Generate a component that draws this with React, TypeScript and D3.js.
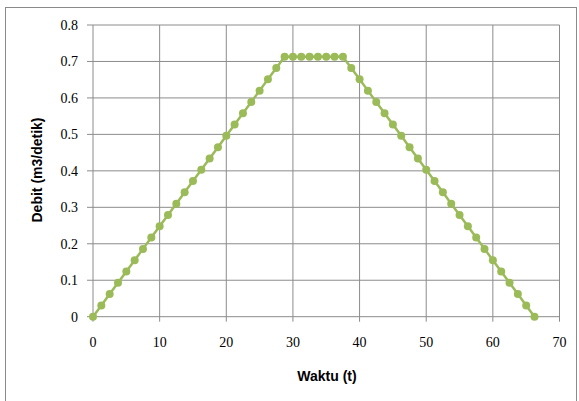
import React from "react";
import * as d3 from "d3";

const waktu = [
  0, 1.25, 2.5, 3.75, 5, 6.25, 7.5, 8.75, 10, 11.25, 12.5, 13.75, 15, 16.25, 17.5, 18.75,
  20, 21.25, 22.5, 23.75, 25, 26.25, 27.5, 28.75, 30, 31.25, 32.5, 33.75, 35, 36.25, 37.5,
  38.75, 40, 41.25, 42.5, 43.75, 45, 46.25, 47.5, 48.75, 50, 51.25, 52.5, 53.75, 55, 56.25,
  57.5, 58.75, 60, 61.25, 62.5, 63.75, 65, 66.25,
];
const debit = [
  0, 0.031, 0.062, 0.093, 0.124, 0.155, 0.186, 0.217, 0.248, 0.279, 0.31, 0.341, 0.372,
  0.403, 0.434, 0.465, 0.496, 0.527, 0.558, 0.589, 0.62, 0.651, 0.682, 0.713, 0.713, 0.713,
  0.713, 0.713, 0.713, 0.713, 0.713, 0.682, 0.651, 0.62, 0.589, 0.558, 0.527, 0.496, 0.465,
  0.434, 0.403, 0.372, 0.341, 0.31, 0.279, 0.248, 0.217, 0.186, 0.155, 0.124, 0.093, 0.062,
  0.031, 0,
];
const xTicks = [0, 10, 20, 30, 40, 50, 60, 70];
const yTicks = [0, 0.1, 0.2, 0.3, 0.4, 0.5, 0.6, 0.7, 0.8];

export default function App() {
  const W = 579, H = 401;
  const x = d3.scaleLinear().domain([0, 70]).range([93, 559.5]);
  const y = d3.scaleLinear().domain([0, 0.8]).range([316.7, 25]);
  const pts = waktu.map((t, i) => [t, debit[i]] as [number, number]);
  const line = d3.line<[number, number]>().x(d => x(d[0])).y(d => y(d[1]));
  const green = "#9BBB59";
  const grid = "#8c8c8c";
  const serif = "'Liberation Serif', 'Times New Roman', serif";
  const sans = "'Liberation Sans', Arial, sans-serif";
  return (
    <svg width={W} height={H} style={{ position: "absolute", left: 0, top: 0, background: "#fff" }}>
      <rect x={5.5} y={7.5} width={571} height={400} fill="#fff" stroke="#8a8a8a" strokeWidth={1} />
      {xTicks.map(t => (
        <line key={"gx" + t} x1={x(t)} x2={x(t)} y1={y(0.8)} y2={y(0) + 5} stroke={grid} strokeWidth={1} />
      ))}
      {yTicks.map(t => (
        <line key={"gy" + t} x1={x(0) - 6} x2={x(70)} y1={y(t)} y2={y(t)} stroke={grid} strokeWidth={1} />
      ))}
      {yTicks.map(t => (
        <text key={"ty" + t} x={78} y={y(t)} dy="0.35em" textAnchor="end" fontFamily={serif} fontSize={14} fill="#000">
          {t === 0 ? "0" : t.toFixed(1)}
        </text>
      ))}
      {xTicks.map(t => (
        <text key={"tx" + t} x={x(t)} y={342} dy="0.35em" textAnchor="middle" fontFamily={serif} fontSize={14} fill="#000">
          {t}
        </text>
      ))}
      <path d={line(pts) || ""} fill="none" stroke={green} strokeWidth={2.5} />
      {pts.map((p, i) => (
        <circle key={i} cx={x(p[0])} cy={y(p[1])} r={4} fill={green} />
      ))}
      <text x={327} y={376} dy="0.35em" textAnchor="middle" fontFamily={sans} fontWeight="bold" fontSize={14} fill="#000">
        Waktu (t)
      </text>
      <text transform={`translate(37,170) rotate(-90)`} dy="0.35em" textAnchor="middle" fontFamily={sans} fontWeight="bold" fontSize={14} fill="#000">
        Debit (m3/detik)
      </text>
    </svg>
  );
}
